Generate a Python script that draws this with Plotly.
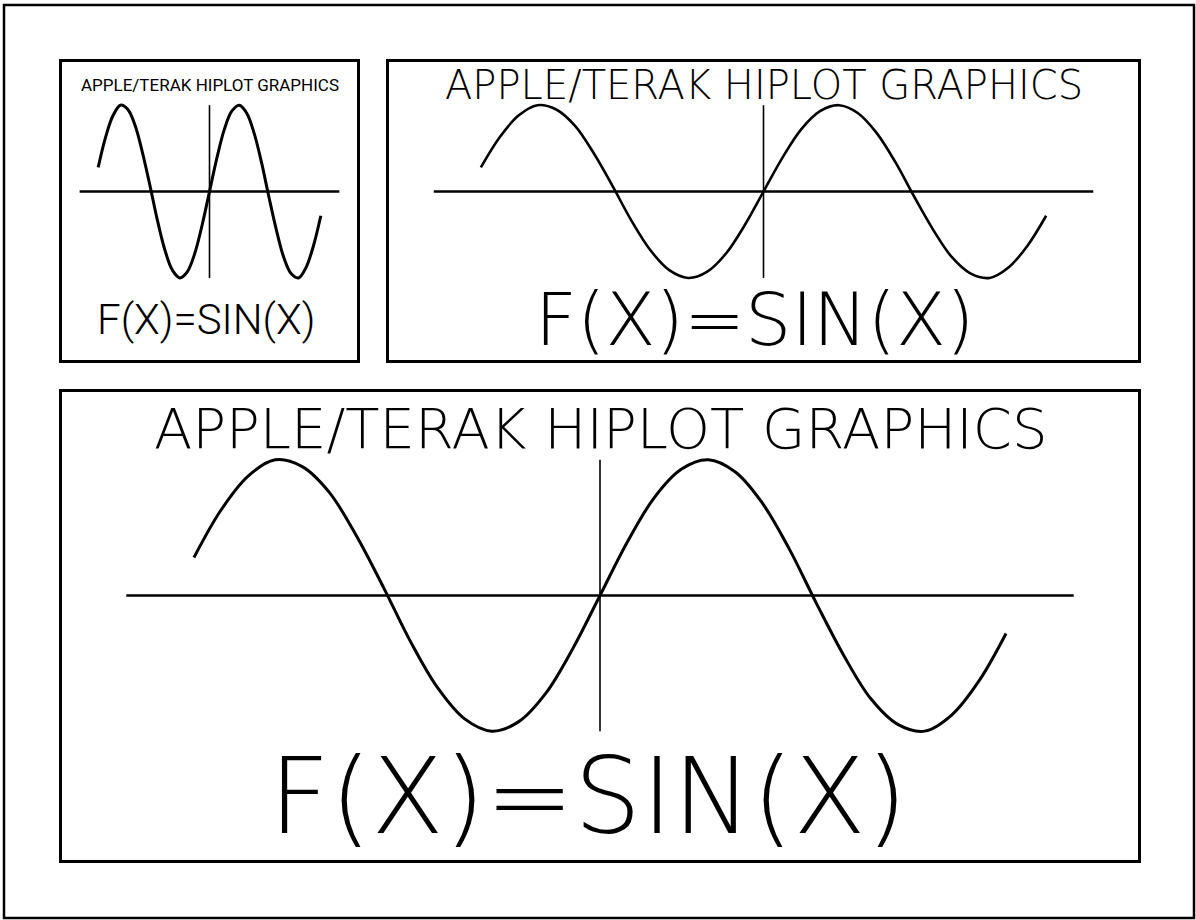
'''
Recreates the Apple/Terak HIPLOT demo sheet: one sine curve drawn at three sizes.
'''

import plotly.graph_objects as go


# heights, every 0.4 rad from -6 to 6
CURVE_X = [-6.0, -5.6, -5.2, -4.8, -4.4, -4.0, -3.6, -3.2, -2.8, -2.4, -2.0,
           -1.6, -1.2, -0.8, -0.4, 0.0, 0.4, 0.8, 1.2, 1.6, 2.0,
           2.4, 2.8, 3.2, 3.6, 4.0, 4.4, 4.8, 5.2, 5.6, 6.0]
CURVE_Y = [0.28, 0.63, 0.88, 1.0, 0.95, 0.76, 0.44, 0.06, -0.34, -0.68, -0.91,
           -1.0, -0.93, -0.72, -0.39, 0.0, 0.39, 0.72, 0.93, 1.0, 0.91,
           0.68, 0.34, -0.06, -0.44, -0.76, -0.95, -1.0, -0.88, -0.63, -0.28]

# the cross drawn through the origin
HAXIS_X = [-7.0, 7.0]
HAXIS_Y = [0.0, 0.0]
VAXIS_X = [0.0, 0.0]
VAXIS_Y = [-1.0, 1.0]

TITLE = 'APPLE/TERAK HIPLOT GRAPHICS'
FORMULA = 'F(X)=SIN(X)'
TITLE_Y = 1.23
FORMULA_Y = -1.48
FORMULA_X = -0.18

W, H = 1196, 920
THIN = 'DejaVu Sans, sans-serif'
NARROW = 'Roboto, sans-serif'

# panel boxes in pixels (left, top, right, bottom) and text styles
PANELS = [
    {'box': (62, 62, 357, 360), 'title': (NARROW, 17, 400), 'formula': (NARROW, 42, 300),
     'curve_w': 3.0},
    {'box': (389, 62, 1138, 360), 'title': (THIN, 40, 200), 'formula': (THIN, 73, 200),
     'curve_w': 2.6},
    {'box': (62, 392, 1138, 860), 'title': (THIN, 56, 200), 'formula': (THIN, 106, 200),
     'curve_w': 3.0},
]


def sheet() -> go.Figure:
    fig = go.Figure()
    layout = {}
    annotations = []
    for i, panel in enumerate(PANELS, start=1):
        left, top, right, bottom = panel['box']
        xa = 'x' if i == 1 else f'x{i}'
        ya = 'y' if i == 1 else f'y{i}'
        axis = dict(
            showgrid = False,
            zeroline = False,
            showticklabels = False,
            ticks = '',
            showline = True,
            mirror = True,
            linecolor = 'black',
            linewidth = 2.5,
            fixedrange = True
        )
        layout['xaxis' if i == 1 else f'xaxis{i}'] = dict(
            axis,
            domain = [left / W, right / W],
            range = [-7.95, 7.95],
            anchor = ya
        )
        layout['yaxis' if i == 1 else f'yaxis{i}'] = dict(
            axis,
            domain = [1 - bottom / H, 1 - top / H],
            range = [-1.95, 1.5],
            anchor = xa
        )
        fig.add_trace(go.Scatter(
            x = HAXIS_X, y = HAXIS_Y, xaxis = xa, yaxis = ya, mode = 'lines',
            line = dict(color = 'black', width = 2.4), hoverinfo = 'skip'
        ))
        fig.add_trace(go.Scatter(
            x = VAXIS_X, y = VAXIS_Y, xaxis = xa, yaxis = ya, mode = 'lines',
            line = dict(color = 'black', width = 1.6), hoverinfo = 'skip'
        ))
        fig.add_trace(go.Scatter(
            x = CURVE_X, y = CURVE_Y, xaxis = xa, yaxis = ya, mode = 'lines',
            line = dict(color = 'black', width = panel['curve_w'], shape = 'spline', smoothing = 1.0),
            hoverinfo = 'skip'
        ))
        for text, x, y, (family, size, weight) in (
                (TITLE, 0, TITLE_Y, panel['title']),
                (FORMULA, FORMULA_X, FORMULA_Y, panel['formula'])):
            annotations.append(dict(
                text = text, x = x, y = y, xref = xa, yref = ya, showarrow = False,
                xanchor = 'center', yanchor = 'middle',
                font = dict(family = family, size = size, weight = weight, color = 'black')
            ))
    fig.update_layout(
        width = W,
        height = H,
        margin = dict(l = 0, r = 0, t = 0, b = 0),
        paper_bgcolor = 'white',
        plot_bgcolor = 'white',
        showlegend = False,
        annotations = annotations,
        shapes = [dict(
            type = 'rect', xref = 'paper', yref = 'paper',
            x0 = 4 / W, x1 = 1194 / W, y0 = 1 - 918 / H, y1 = 1 - 5 / H,
            line = dict(color = 'black', width = 2.5)
        )],
        **layout
    )
    return fig


fig = sheet()
# the page body has a default 8px margin; drop it so the sheet sits at the window's corner
fig.write_html(
    'out.html',
    config = {'displayModeBar': False},
    post_script = "document.body.style.margin='0';"
)
